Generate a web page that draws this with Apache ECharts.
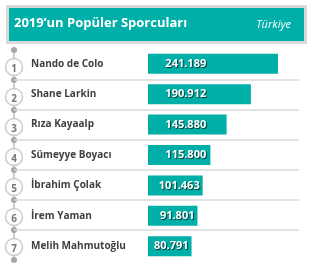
<!DOCTYPE html>
<html>
<head>
<meta charset="utf-8">
<script src="https://cdn.jsdelivr.net/npm/echarts@6/dist/echarts.min.js"></script>
<style>
  html, body { margin: 0; padding: 0; background: #fff; }
  #chart { width: 312px; height: 269px; }
</style>
</head>
<body>
<div id="chart"></div>
<script>
const titleText = '2019\u2019un Popüler Sporcuları'
const subText = 'Türkiye'
const names = ['Nando de Colo', 'Shane Larkin', 'Rıza Kayaalp', 'Sümeyye Boyacı', 'İbrahim Çolak', 'İrem Yaman', 'Melih Mahmutoğlu']
const values = [241189, 190912, 145880, 115800, 101463, 91801, 80791]
const ranks = [1, 2, 3, 4, 5, 6, 7]

const teal = '#00b0a8'

// 241189 -> 241.189
const fmt = v => String(v).replace(/\B(?=(\d{3})+(?!\d))/g, '.')

const chart = echarts.init(document.getElementById('chart'))

// decor grid: rows 0..7, connector line on the left, separators between rows
const connector = []
for (let k = 0; k <= names.length; k++) connector.push([0, k])
const separators = []
for (let k = 1; k < names.length; k++) separators.push({ yAxis: k })

const valueLabel = {
  show: true, position: 'insideRight', distance: 3,
  formatter: p => fmt(p.value),
  color: '#fff', fontFamily: 'Open Sans', fontWeight: 'bold', fontSize: 11,
  textShadowColor: 'rgba(0,0,0,0.7)', textShadowBlur: 1, textShadowOffsetX: 1, textShadowOffsetY: 1
}

chart.setOption({
  animation: false,
  graphic: [
    {
      type: 'rect',
      shape: { x: 7.5, y: 6.5, width: 298, height: 36 },
      style: { fill: teal, stroke: '#d9d9d9', lineWidth: 3 }
    }
  ],
  title: [
    {
      text: titleText,
      left: 9, top: 12,
      textStyle: { color: '#fff', fontFamily: 'Open Sans', fontWeight: 'bold', fontSize: 13 }
    },
    {
      text: subText,
      right: 16, top: 14,
      textStyle: { color: '#fff', fontFamily: 'Open Sans', fontStyle: 'italic', fontWeight: 'normal', fontSize: 11 }
    }
  ],
  grid: [
    { left: 148, width: 130, top: 48.5, height: 213 },
    { left: 14, right: 13, top: 50, height: 210 }
  ],
  xAxis: [
    { gridIndex: 0, type: 'value', min: 0, max: 241189, show: false },
    { gridIndex: 1, type: 'value', min: 0, max: 1, show: false }
  ],
  yAxis: [
    {
      gridIndex: 0, type: 'category', data: names, inverse: true,
      axisLine: { show: false }, axisTick: { show: false }, splitLine: { show: false },
      axisLabel: {
        align: 'left', margin: 117,
        color: '#404040', fontFamily: 'Open Sans', fontWeight: 'bold', fontSize: 10
      }
    },
    { gridIndex: 1, type: 'value', min: 0, max: 7, inverse: true, show: false }
  ],
  series: [
    {
      type: 'line', xAxisIndex: 1, yAxisIndex: 1, z: 1,
      data: connector,
      symbol: 'circle', symbolSize: 6,
      itemStyle: { color: '#a6a6a6' },
      lineStyle: { color: '#bfbfbf', width: 1.5 },
      markLine: {
        silent: true,
        symbol: ['none', 'circle'], symbolSize: [0, 6],
        label: { show: false },
        lineStyle: { color: '#d9d9d9', type: 'solid', width: 1.5 },
        itemStyle: { color: '#a6a6a6' },
        data: separators
      }
    },
    {
      type: 'scatter', xAxisIndex: 1, yAxisIndex: 1, z: 3,
      data: ranks.map((r, i) => [0, i + 0.5, r]),
      symbol: 'circle', symbolSize: 17, symbolOffset: [0, 2],
      itemStyle: { color: '#fff', borderColor: '#bfbfbf', borderWidth: 1.5 },
      label: {
        show: true, position: 'inside', offset: [0, 2],
        formatter: p => p.value[2],
        color: '#595959', fontFamily: 'Open Sans', fontWeight: 'bold', fontSize: 10
      }
    },
    {
      id: 'bars',
      type: 'bar', xAxisIndex: 0, yAxisIndex: 0, z: 2,
      data: values,
      barWidth: 20,
      itemStyle: { color: teal },
      label: valueLabel
    }
  ]
})

// value labels end at a common column, or just inside the bar end when the bar is short
const labelEnd = chart.convertToPixel({ xAxisIndex: 0 }, 108000)
const barData = values.map(v => {
  const end = chart.convertToPixel({ xAxisIndex: 0 }, v)
  return { value: v, label: { distance: Math.max(3, end - labelEnd) } }
})
chart.setOption({ series: [{ id: 'bars', data: barData }] })
</script>
</body>
</html>
